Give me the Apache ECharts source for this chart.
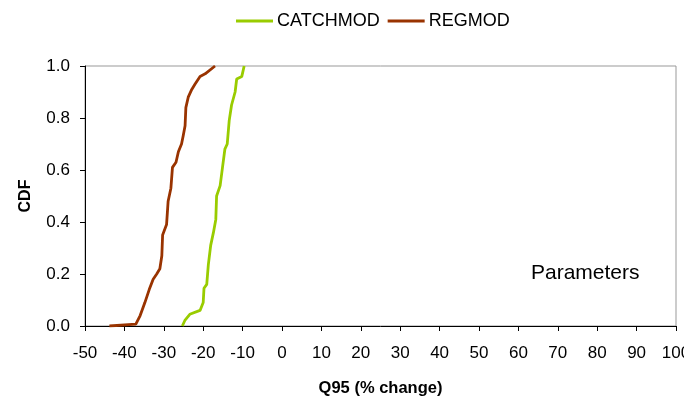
<!DOCTYPE html>
<html>
<head>
<meta charset="utf-8">
<script src="https://cdn.jsdelivr.net/npm/echarts@6/dist/echarts.min.js"></script>
<style>
  html, body { margin: 0; padding: 0; background: #fff; }
  #chart { width: 684px; height: 400px; }
</style>
</head>
<body>
<div id="chart"></div>
<script>
// Q95 % change values and their CDF
var catchX = [-25.3, -24.6, -23.4, -20.8, -20.0, -19.8, -19.1, -18.7, -18.1, -17.4, -16.8, -16.6, -15.7, -15.1, -14.5, -13.9, -13.4, -12.8, -11.9, -11.5, -10.2, -9.6];
var catchCdf = [0, 0.023, 0.045, 0.06, 0.09, 0.145, 0.16, 0.235, 0.31, 0.36, 0.41, 0.50, 0.54, 0.61, 0.68, 0.70, 0.79, 0.85, 0.90, 0.95, 0.96, 1.0];
var regX = [-43.8, -37.1, -36.0, -34.8, -33.7, -32.7, -31.8, -31.0, -30.5, -30.3, -29.3, -28.9, -28.2, -27.8, -26.9, -26.3, -25.5, -25.1, -24.6, -24.4, -23.8, -22.9, -22.1, -20.8, -19.5, -17.0];
var regCdf = [0, 0.007, 0.04, 0.09, 0.14, 0.18, 0.20, 0.22, 0.27, 0.35, 0.39, 0.48, 0.53, 0.61, 0.63, 0.67, 0.70, 0.73, 0.77, 0.84, 0.88, 0.91, 0.93, 0.96, 0.97, 1.0];
var names = ["CATCHMOD", "REGMOD"];
var colors = ["#99cc00", "#993300"];

function pairs(xs, ys) {
    var out = [];
    for (var i = 0; i < xs.length; i++) out.push([xs[i], ys[i]]);
    return out;
}

var font = "Liberation Sans, Arial, sans-serif";
var chart = echarts.init(document.getElementById("chart"), null, {renderer: "canvas"});

chart.setOption({
    animation: false,
    textStyle: {fontFamily: font},
    legend: {
        top: 12, left: 236, padding: 0,
        itemWidth: 37, itemHeight: 3, itemGap: 8,
        icon: "rect",
        textStyle: {fontSize: 18, color: "#000", fontFamily: font, padding: [0, 0, 0, -1]},
        data: names
    },
    grid: {
        left: 85, right: 8, top: 66, bottom: 74,
        outerBoundsMode: "none",
        show: true, borderColor: "#999", borderWidth: 1
    },
    xAxis: {
        type: "value", min: -50, max: 100, interval: 10,
        name: "Q95 (% change)", nameLocation: "middle", nameGap: 54,
        nameTextStyle: {fontSize: 16.5, fontWeight: "bold", color: "#000"},
        axisLine: {onZero: false, lineStyle: {color: "#000", width: 1}},
        axisTick: {show: true, length: 5, lineStyle: {color: "#000"}},
        axisLabel: {fontSize: 17, color: "#000", margin: 19},
        splitLine: {show: false}
    },
    yAxis: {
        type: "value", min: 0, max: 1, interval: 0.2,
        name: "CDF", nameLocation: "middle", nameGap: 51, nameRotate: 90,
        nameTextStyle: {fontSize: 16, fontWeight: "bold", color: "#000"},
        axisLine: {show: true, onZero: false, lineStyle: {color: "#000", width: 1}},
        axisTick: {show: true, length: 5, lineStyle: {color: "#000"}},
        axisLabel: {fontSize: 17, color: "#000", margin: 15, formatter: function (v) { return v.toFixed(1); }},
        splitLine: {show: false}
    },
    graphic: [{
        type: "text", left: 531, top: 263,
        style: {text: "Parameters", fontSize: 21, fill: "#000", fontFamily: font}
    }],
    series: [
        {name: names[0], type: "line", data: pairs(catchX, catchCdf), showSymbol: false,
         lineStyle: {color: colors[0], width: 2.8}, itemStyle: {color: colors[0]}},
        {name: names[1], type: "line", data: pairs(regX, regCdf), showSymbol: false,
         lineStyle: {color: colors[1], width: 2.8}, itemStyle: {color: colors[1]}}
    ]
});
</script>
</body>
</html>
